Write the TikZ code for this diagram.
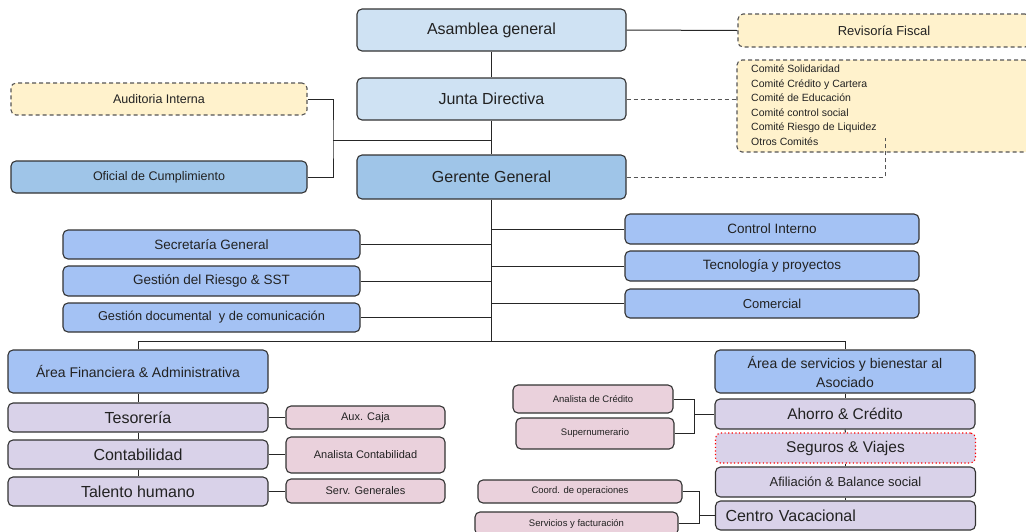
\documentclass[tikz,border=0pt]{standalone}
\usepackage{fontspec}
\setmainfont{Liberation Sans}
\newcommand\fs[2]{\fontsize{#1}{#2}\selectfont}
\definecolor{cLB}{HTML}{CFE2F3}
\definecolor{cMB}{HTML}{9FC5E8}
\definecolor{cCB}{HTML}{A4C2F4}
\definecolor{cYel}{HTML}{FFF2CC}
\definecolor{cPur}{HTML}{D9D2E9}
\definecolor{cPink}{HTML}{EAD1DC}
\definecolor{cBord}{HTML}{333333}
\definecolor{cTxt}{HTML}{222222}
\definecolor{cDash}{HTML}{555555}
\begin{document}
\begin{tikzpicture}[x=1pt,y=-1pt,
  box/.style={draw=cBord, line width=1.1pt, rounded corners=5pt, inner sep=0pt, align=center, text=cTxt},
  dbox/.style={box, draw=cDash, dash pattern=on 4pt off 3pt},
  conn/.style={draw=black!85, line width=1pt},
  dconn/.style={draw=cDash, line width=1pt, dash pattern=on 4pt off 3pt},
]
\useasboundingbox (0,0) rectangle (1026,531);
\fill[white] (0,0) rectangle (1026,531);

\coordinate (audj) at (333,140);
\coordinate (jg) at (491.5,140);
\coordinate (trunkb) at (491.5,341);
\coordinate (hl) at (138,341);
\coordinate (hr) at (845,341);
\coordinate (cmend) at (885,138);
\coordinate (b1) at (694,414);
\coordinate (b2) at (699,515.5);

% top level
\node[box, fill=cLB, minimum width=269, minimum height=42, font=\fs{16}{19}] (asamblea) at (491.5,30) {Asamblea general};
\node[dbox, fill=cYel, minimum width=292, minimum height=33, font=\fs{13}{16}] (revisoria) at (884,30.5) {Revisoría Fiscal};
\node[box, fill=cLB, minimum width=269, minimum height=42, font=\fs{16}{19}] (junta) at (491.5,99) {Junta Directiva};
\node[dbox, fill=cYel, minimum width=293, minimum height=92] (comites) at (883.5,106) {};
\node[anchor=north west, inner sep=0pt, align=left, text=cTxt, font=\fs{10.5}{14.6}] (comitestxt) at (751,64.5) {Comité Solidaridad\\Comité Crédito y Cartera\\Comité de Educación\\Comité control social\\Comité Riesgo de Liquidez\\Otros Comités};
\node[dbox, fill=cYel, minimum width=296, minimum height=32, font=\fs{12.5}{15}] (auditoria) at (159,99) {Auditoria Interna};
\node[box, fill=cMB, minimum width=269, minimum height=44, font=\fs{16}{19}] (gerente) at (491.5,177) {Gerente General};
\node[box, fill=cMB, minimum width=296, minimum height=32, font=\fs{12.5}{15}] (oficial) at (159,177) {Oficial de Cumplimiento};

% staff
\node[box, fill=cCB, minimum width=297, minimum height=29, font=\fs{13.5}{16}] (secretaria) at (211.5,244.5) {Secretaría General};
\node[box, fill=cCB, minimum width=297, minimum height=30, font=\fs{13.5}{16}] (riesgo) at (211.5,281) {Gestión del Riesgo \& SST};
\node[box, fill=cCB, minimum width=297, minimum height=29, font=\fs{12.8}{15}] (documental) at (211.5,317.5) {Gestión documental\ \ y de comunicación};
\node[box, fill=cCB, minimum width=294, minimum height=30, font=\fs{13.5}{16}] (control) at (772,229) {Control Interno};
\node[box, fill=cCB, minimum width=294, minimum height=30, font=\fs{13.5}{16}] (tecnologia) at (772,266) {Tecnología y proyectos};
\node[box, fill=cCB, minimum width=294, minimum height=29, font=\fs{13}{16}] (comercial) at (772,303.5) {Comercial};

% financial area
\node[box, fill=cCB, minimum width=260, minimum height=43, font=\fs{14}{17}] (areafin) at (138,371.5) {Área Financiera \& Administrativa};
\node[box, fill=cPur, minimum width=260, minimum height=29, font=\fs{16}{19}] (tesoreria) at (138,417.5) {Tesorería};
\node[box, fill=cPur, minimum width=260, minimum height=29, font=\fs{16}{19}] (contabilidad) at (138,454.5) {Contabilidad};
\node[box, fill=cPur, minimum width=260, minimum height=29, font=\fs{16}{19}] (talento) at (138,491.5) {Talento humano};
\node[box, fill=cPink, minimum width=159, minimum height=23, font=\fs{11}{13}] (auxcaja) at (365.5,417.5) {Aux. Caja};
\node[box, fill=cPink, minimum width=159, minimum height=36, font=\fs{11}{13}] (analistacont) at (365.5,455) {Analista Contabilidad};
\node[box, fill=cPink, minimum width=159, minimum height=24, font=\fs{11}{13}] (servgen) at (365.5,491) {Serv. Generales};

% services area
\node[box, fill=cCB, minimum width=260, minimum height=43, font=\fs{14}{19}] (areaserv) at (845,371.5) {Área de servicios y bienestar al\\Asociado};
\node[box, fill=cPur, minimum width=260, minimum height=30, font=\fs{15.5}{18}] (ahorro) at (845,414) {Ahorro \& Crédito};
\node[box, fill=cPur, draw=red, dash pattern=on 1.2pt off 2.4pt, minimum width=260, minimum height=30, font=\fs{15.5}{18}] (seguros) at (845.5,448) {Seguros \& Viajes};
\node[box, fill=cPur, minimum width=260, minimum height=30, font=\fs{13}{16}] (afiliacion) at (845.5,482) {Afiliación \& Balance social};
\node[box, fill=cPur, minimum height=29, text width=240, align=left, inner xsep=10pt, font=\fs{16}{19}] (centro) at (845.5,515.5) {Centro Vacacional};
\node[box, fill=cPink, minimum width=160, minimum height=28, font=\fs{9.5}{12}] (analistacred) at (593,399) {Analista de Crédito};
\node[box, fill=cPink, minimum width=158, minimum height=31, font=\fs{9.5}{12}] (supernum) at (595,433.5) {Supernumerario};
\node[box, fill=cPink, minimum width=204, minimum height=23, font=\fs{9.5}{12}] (coord) at (580,491.5) {Coord. de operaciones};
\node[box, fill=cPink, minimum width=203, minimum height=23, font=\fs{9.5}{12}] (servicios) at (576.5,523.5) {Servicios y facturación};

% connectors
\draw[conn] (asamblea.south) -- (junta.north);
\draw[conn] (asamblea.east) -- (revisoria.west);
\draw[dconn] (junta.east) -- (junta.east -| comites.west);
\draw[dconn] (gerente.east) -| (cmend);
\draw[conn] (junta.south) -- (gerente.north);
\draw[conn] (jg) -- (audj);
\draw[conn] (auditoria.east) -| (audj) |- (oficial.east);
\draw[conn] (gerente.south) -- (trunkb);
\draw[conn] (areafin.north) -- (hl) -- (hr) -- (areaserv.north);
\draw[conn] (secretaria.east) -- (secretaria.east -| trunkb);
\draw[conn] (riesgo.east) -- (riesgo.east -| trunkb);
\draw[conn] (documental.east) -- (documental.east -| trunkb);
\draw[conn] (control.west) -- (control.west -| trunkb);
\draw[conn] (tecnologia.west) -- (tecnologia.west -| trunkb);
\draw[conn] (comercial.west) -- (comercial.west -| trunkb);
\draw[conn] (areafin.south) -- (tesoreria.north);
\draw[conn] (tesoreria.south) -- (contabilidad.north);
\draw[conn] (contabilidad.south) -- (talento.north);
\draw[conn] (tesoreria.east) -- (auxcaja.west);
\draw[conn] (contabilidad.east) -- (analistacont.west |- contabilidad.east);
\draw[conn] (talento.east) -- (servgen.west |- talento.east);
\draw[conn] (areaserv.south) -- (ahorro.north);
\draw[conn] (ahorro.south) -- (seguros.north);
\draw[conn] (seguros.south) -- (afiliacion.north);
\draw[conn] (afiliacion.south) -- (centro.north);
\draw[conn] (analistacred.east) -| (b1);
\draw[conn] (supernum.east) -| (b1);
\draw[conn] (b1) -- (ahorro.west);
\draw[conn] (coord.east) -| (b2);
\draw[conn] (servicios.east) -| (b2);
\draw[conn] (b2) -- (centro.west);
\end{tikzpicture}
\end{document}
